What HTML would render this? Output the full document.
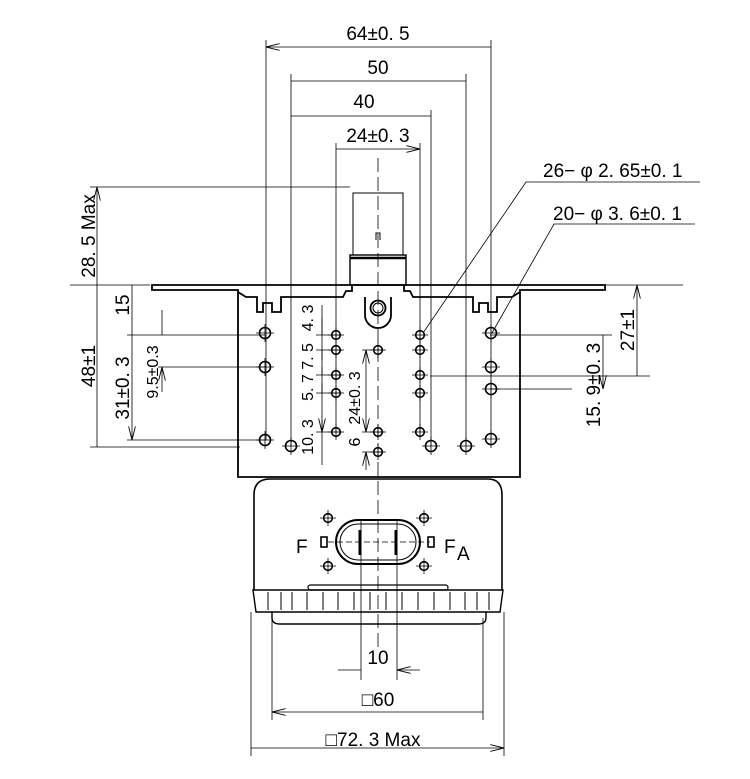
<!DOCTYPE html>
<html><head><style>body{margin:0;background:#fff}svg{display:block}text{font-family:"Liberation Sans",sans-serif;fill:#000}</style></head><body>
<svg width="750" height="779" viewBox="0 0 750 779" xmlns="http://www.w3.org/2000/svg">
<defs>
<marker id="a" viewBox="0 0 14 7" refX="14" refY="3.5" markerWidth="14" markerHeight="7" orient="auto-start-reverse" markerUnits="userSpaceOnUse"><path d="M0,0 L14,3.5 L0,7" fill="none" stroke="#000" stroke-width="0.9"/></marker>
<g id="h"><circle r="5.5" fill="none" stroke="#000" stroke-width="1.6"/><path d="M-9,0H9M0,-9V9" stroke="#000" stroke-width="0.8"/></g>
<g id="s"><circle r="4.3" fill="none" stroke="#000" stroke-width="1.6"/><path d="M-8,0H8M0,-8V8" stroke="#000" stroke-width="0.8"/></g>
</defs>
<!-- body -->
<g stroke="#000" fill="none" stroke-width="1.8">
<path d="M152,285H605V290H520V477H238V290H152Z"/>
<path d="M238,292L246,297H257V312H263V303H272V312H281V297H343L346,291H352V285M404,285V291H410L413,297H473V312H479V303H488V312H497V297H512L520,292"/>
<path d="M365,297V315A13,13 0 0 0 391,315V297"/>
<circle cx="378" cy="308" r="7.5"/><circle cx="378" cy="308" r="5" stroke-width="1"/>
<rect x="350" y="255" width="56" height="30" stroke-width="1.4"/>
<path d="M353,255V193H403V255" stroke-width="1"/>
<path d="M350,258H406" stroke-width="2.5"/>
<path d="M376,240V233H380V240" stroke-width="1"/>
<path d="M254,590V495Q254,479 270,479H488Q502,479 502,495V590" stroke-width="1.6"/>
<path d="M253,590H503L500,612H256Z" stroke-width="1.4"/>
<path d="M272,612V618Q272,624 280,624H478Q486,624 486,618V612" stroke-width="1.4"/>
<rect x="308" y="585" width="140" height="5" rx="2.5" stroke-width="1.2"/>
<rect x="336" y="520" width="84" height="44" rx="22" stroke-width="2"/>
<rect x="340" y="524" width="76" height="36" rx="18" stroke-width="1"/>
<path d="M360,530V555M396,530V555" stroke-width="3"/>
<rect x="321" y="537" width="6" height="10" stroke-width="1.6"/>
<rect x="428" y="537" width="6" height="10" stroke-width="1.6"/>
</g>
<g stroke="#000" stroke-width="1">
<path d="M268,592V610M281,592V610M292,592V610M307,592V610M323,592V610M338,592V610M354,592V610M370,592V610M386,592V610M402,592V610M418,592V610M434,592V610M450,592V610M465,592V610M477,592V610M489,592V610"/>
</g>
<g stroke="#000" stroke-width="0.8" fill="none">
<path d="M266,40V440M291,74V446M336,143V432M420,143V432M431,110V446M466,74V446M491,40V440"/>
<path d="M266,47H491M291,81H466M291,116H431M336,149H420" marker-start="url(#a)" marker-end="url(#a)"/>
<path d="M378,158V650" stroke-dasharray="14,5"/>
<path d="M328,542H430" stroke-dasharray="6,3"/>
<path d="M90,187H350M90,447H240M127,335H265M158,367H265M127,440H265M70,285H150"/>
<path d="M97,187V285M97,285V447M132,285V335M132,335V440" marker-start="url(#a)" marker-end="url(#a)"/>
<path d="M162,310V335M162,392V367" marker-end="url(#a)"/>
<path d="M520,285H683M600,376H650M490,335H612M490,389H572M430,376H600"/>
<path d="M637,285V376M603,335V389" marker-start="url(#a)" marker-end="url(#a)"/>
<path d="M700,182H526L423,333M695,224H554L492,333"/>
<path d="M322,305V465M316,335H342M316,350H342M316,375H342M316,393H342M316,432H342M362,350H384M362,432H384M362,452H384"/>
<path d="M322,318V335M322,360V350M322,367V375M322,383V393M322,420V432" marker-end="url(#a)"/>
<path d="M366,350V432" marker-start="url(#a)" marker-end="url(#a)"/>
<path d="M366,470V452" marker-end="url(#a)"/>
<path d="M361,520V680M397,520V680M272,618V720M483,618V720M251,612V756M504,612V756"/>
<path d="M338,670H361M420,670H397" marker-end="url(#a)"/>
<path d="M272,712H483M251,748H504" marker-start="url(#a)" marker-end="url(#a)"/>
</g>
<use href="#h" x="265" y="333"/><use href="#h" x="265" y="367"/><use href="#h" x="265" y="440"/>
<use href="#h" x="291" y="446"/><use href="#h" x="431" y="446"/><use href="#h" x="466" y="446"/>
<use href="#h" x="491" y="333"/><use href="#h" x="491" y="367"/><use href="#h" x="491" y="389"/><use href="#h" x="491" y="439"/>
<use href="#s" x="336" y="335"/><use href="#s" x="336" y="350"/><use href="#s" x="336" y="375"/><use href="#s" x="336" y="393"/><use href="#s" x="336" y="432"/>
<use href="#s" x="420" y="335"/><use href="#s" x="420" y="350"/><use href="#s" x="420" y="375"/><use href="#s" x="420" y="393"/><use href="#s" x="420" y="432"/>
<use href="#s" x="378" y="350"/><use href="#s" x="378" y="432"/><use href="#s" x="378" y="452"/>
<use href="#s" x="328" y="518"/><use href="#s" x="424" y="518"/><use href="#s" x="328" y="566"/><use href="#s" x="424" y="566"/>
<g font-size="19">
<text x="378" y="40" text-anchor="middle">64±0. 5</text>
<text x="378" y="74" text-anchor="middle">50</text>
<text x="364" y="108" text-anchor="middle">40</text>
<text x="378" y="142" text-anchor="middle">24±0. 3</text>
<text x="543" y="177">26− φ 2. 65±0. 1</text>
<text x="553" y="220">20− φ 3. 6±0. 1</text>
<text x="378" y="664" text-anchor="middle">10</text>
<text x="378" y="706" text-anchor="middle">□60</text>
<text x="373" y="746" text-anchor="middle">□72. 3  Max</text>
<text x="296" y="553">F</text>
<text x="444" y="553">F</text><text x="457" y="560">A</text>
<text transform="translate(95,236) rotate(-90)" text-anchor="middle">28. 5 Max</text>
<text transform="translate(95,366) rotate(-90)" text-anchor="middle">48±1</text>
<text transform="translate(129,305) rotate(-90)" text-anchor="middle">15</text>
<text transform="translate(129,388) rotate(-90)" text-anchor="middle">31±0. 3</text>
<text transform="translate(158,372) rotate(-90)" text-anchor="middle" font-size="16">9.5±0.3</text>
<text transform="translate(634,330) rotate(-90)" text-anchor="middle">27±1</text>
<text transform="translate(600,385) rotate(-90)" text-anchor="middle">15. 9±0. 3</text>
</g>
<g font-size="16">
<text transform="translate(313,318) rotate(-90)" text-anchor="middle">4. 3</text>
<text transform="translate(313,372) rotate(-90)" text-anchor="middle">5. 7 7. 5</text>
<text transform="translate(313,437) rotate(-90)" text-anchor="middle">10. 3</text>
<text transform="translate(360,398) rotate(-90)" text-anchor="middle">24±0. 3</text>
<text transform="translate(360,442) rotate(-90)" text-anchor="middle">6</text>
</g>
</svg>
</body></html>
